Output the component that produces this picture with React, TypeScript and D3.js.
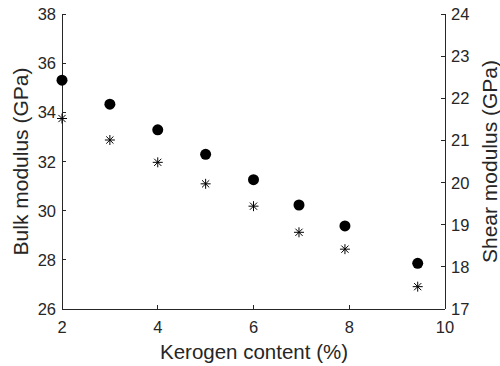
import React from "react";
import * as d3 from "d3";

const kerogen = [2, 3, 4, 5, 6, 6.95, 7.91, 9.43];
const bulk = [35.31, 34.33, 33.29, 32.29, 31.26, 30.23, 29.38, 27.86];
const shear = [21.52, 21.01, 20.48, 19.97, 19.44, 18.82, 18.42, 17.53];
const xTicks = [2, 4, 6, 8, 10];
const leftTicks = [26, 28, 30, 32, 34, 36, 38];
const rightTicks = [17, 18, 19, 20, 21, 22, 23, 24];

const W = 500, H = 366;
const L = 62, R = 445, T = 14, B = 309;
const FONT = "'Liberation Sans', Arial, sans-serif";
const AX = "#262626";

export default function App() {
  const x = d3.scaleLinear().domain([2, 10]).range([L, R]);
  const yL = d3.scaleLinear().domain([26, 38]).range([B, T]);
  const yR = d3.scaleLinear().domain([17, 24]).range([B, T]);
  const tk = 4;
  const star = (cx: number, cy: number, i: number) => {
    const s = 5;
    const d = s * 0.72;
    return (
      <g key={"s" + i} stroke="#000" strokeWidth={1}>
        <line x1={cx - s} y1={cy} x2={cx + s} y2={cy} />
        <line x1={cx} y1={cy - s} x2={cx} y2={cy + s} />
        <line x1={cx - d} y1={cy - d} x2={cx + d} y2={cy + d} />
        <line x1={cx - d} y1={cy + d} x2={cx + d} y2={cy - d} />
      </g>
    );
  };
  return (
    <svg width={W} height={H} style={{ position: "absolute", left: 0, top: 0, background: "#fff" }} fontFamily={FONT}>
      <rect width={W} height={H} fill="#fff" />
      <g stroke={AX} strokeWidth={1} fill="none" shapeRendering="crispEdges">
        <line x1={L} y1={T} x2={L} y2={B} />
        <line x1={L} y1={B} x2={R} y2={B} />
        <line x1={R} y1={T} x2={R} y2={B} />
        {xTicks.map((t) => (
          <line key={"xt" + t} x1={x(t)} y1={B} x2={x(t)} y2={B - tk} />
        ))}
        {leftTicks.map((t) => (
          <line key={"lt" + t} x1={L} y1={yL(t)} x2={L + tk} y2={yL(t)} />
        ))}
        {rightTicks.map((t) => (
          <line key={"rt" + t} x1={R} y1={yR(t)} x2={R - tk} y2={yR(t)} />
        ))}
      </g>
      <g fill={AX} fontSize={16.5}>
        {xTicks.map((t) => (
          <text key={"xl" + t} x={x(t)} y={B + 24} textAnchor="middle">{t}</text>
        ))}
        {leftTicks.map((t) => (
          <text key={"ll" + t} x={L - 6} y={yL(t) + 6} textAnchor="end">{t}</text>
        ))}
        {rightTicks.map((t) => (
          <text key={"rl" + t} x={R + 6} y={yR(t) + 6} textAnchor="start">{t}</text>
        ))}
      </g>
      <g fill={AX} fontSize={21}>
        <text x={(L + R) / 2 + 0.5} y={359} textAnchor="middle" fontSize={20.5}>Kerogen content (%)</text>
        <text transform={`translate(28,${(T + B) / 2}) rotate(-90)`} textAnchor="middle">Bulk modulus (GPa)</text>
        <text transform={`translate(497,${(T + B) / 2}) rotate(-90)`} textAnchor="middle">Shear modulus (GPa)</text>
      </g>
      {kerogen.map((k, i) => (
        <circle key={"c" + i} cx={x(k)} cy={yL(bulk[i])} r={5.5} fill="#000" />
      ))}
      {kerogen.map((k, i) => star(x(k), yR(shear[i]), i))}
    </svg>
  );
}
